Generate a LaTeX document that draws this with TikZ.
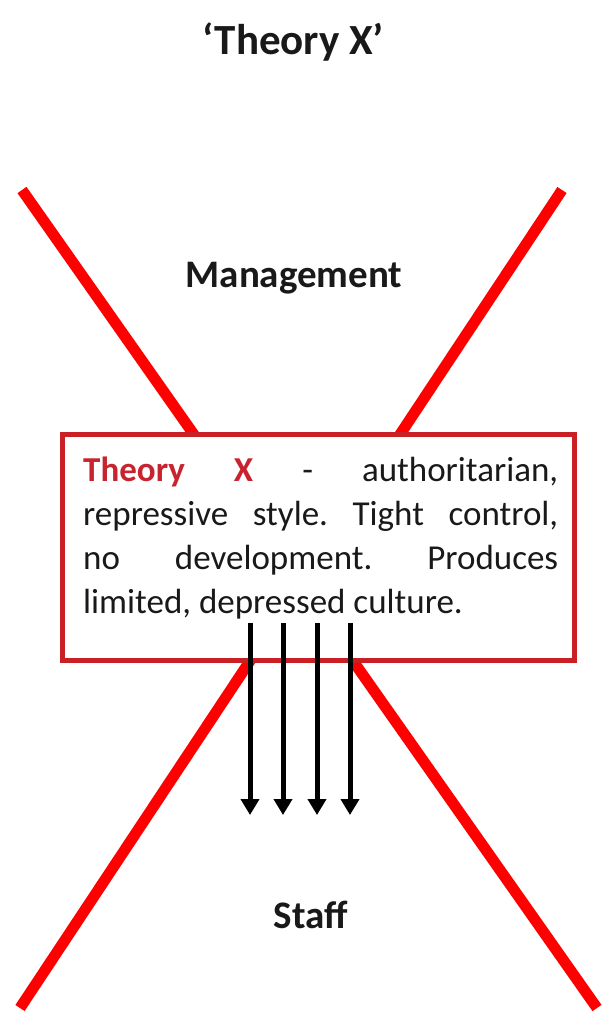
\documentclass[tikz,border=0pt]{standalone}
\usepackage{fontspec}
\setmainfont{Carlito}
\usetikzlibrary{arrows.meta}
\definecolor{xred}{RGB}{255,0,0}
\definecolor{boxred}{RGB}{200,32,36}
\definecolor{txtred}{RGB}{200,36,48}
\definecolor{ink}{RGB}{25,25,25}
\tikzset{
  crossline/.style={draw=xred, line width=11pt, line cap=butt},
  theorybox/.style={draw=boxred, fill=white, line width=5pt, minimum width=512pt, minimum height=226pt, inner sep=0pt},
  flowarrow/.style={draw=black, line width=5pt, -{Triangle[width=18pt,length=16pt]}},
  heading/.style={font=\bfseries\fontsize{39}{46}\selectfont, text=ink, inner sep=0pt, anchor=base},
}
\begin{document}
\begin{tikzpicture}[x=1pt,y=-1pt]
\useasboundingbox (0,0) rectangle (615,1013);
% title
\node[font=\bfseries\fontsize{43}{50}\selectfont, text=ink, inner sep=0pt, anchor=base] (title) at (293,54) {‘Theory X’};
% cross lines
\coordinate (a1) at (22,190);
\coordinate (a2) at (597,1008);
\coordinate (b1) at (562,190);
\coordinate (b2) at (20,1008);
\draw[crossline] (a1) -- (a2);
\draw[crossline] (b1) -- (b2);
% labels
\node[heading] (mgmt) at (294,287) {Management};
\node[heading] (staff) at (311,928) {Staff};
% box
\node[theorybox] (box) at (318.5,547.5) {};
\node[inner sep=0pt, anchor=base west, text=ink] (desc) at (83,481)
  {\parbox[t]{475pt}{\frenchspacing\hbadness=10000\hyphenpenalty=10000\fontsize{35}{44}\selectfont
  \textcolor{txtred}{\bfseries Theory X} - authoritarian,\linebreak
  repressive style. Tight control,\linebreak
  no development. Produces\linebreak
  limited, depressed culture.}};
% arrows
\foreach \i/\x in {1/250,2/283,3/317,4/350}{
  \coordinate (s\i) at (\x,623);
  \coordinate (e\i) at (\x,815);
  \draw[flowarrow] (s\i) -- (e\i);
}
\end{tikzpicture}
\end{document}
